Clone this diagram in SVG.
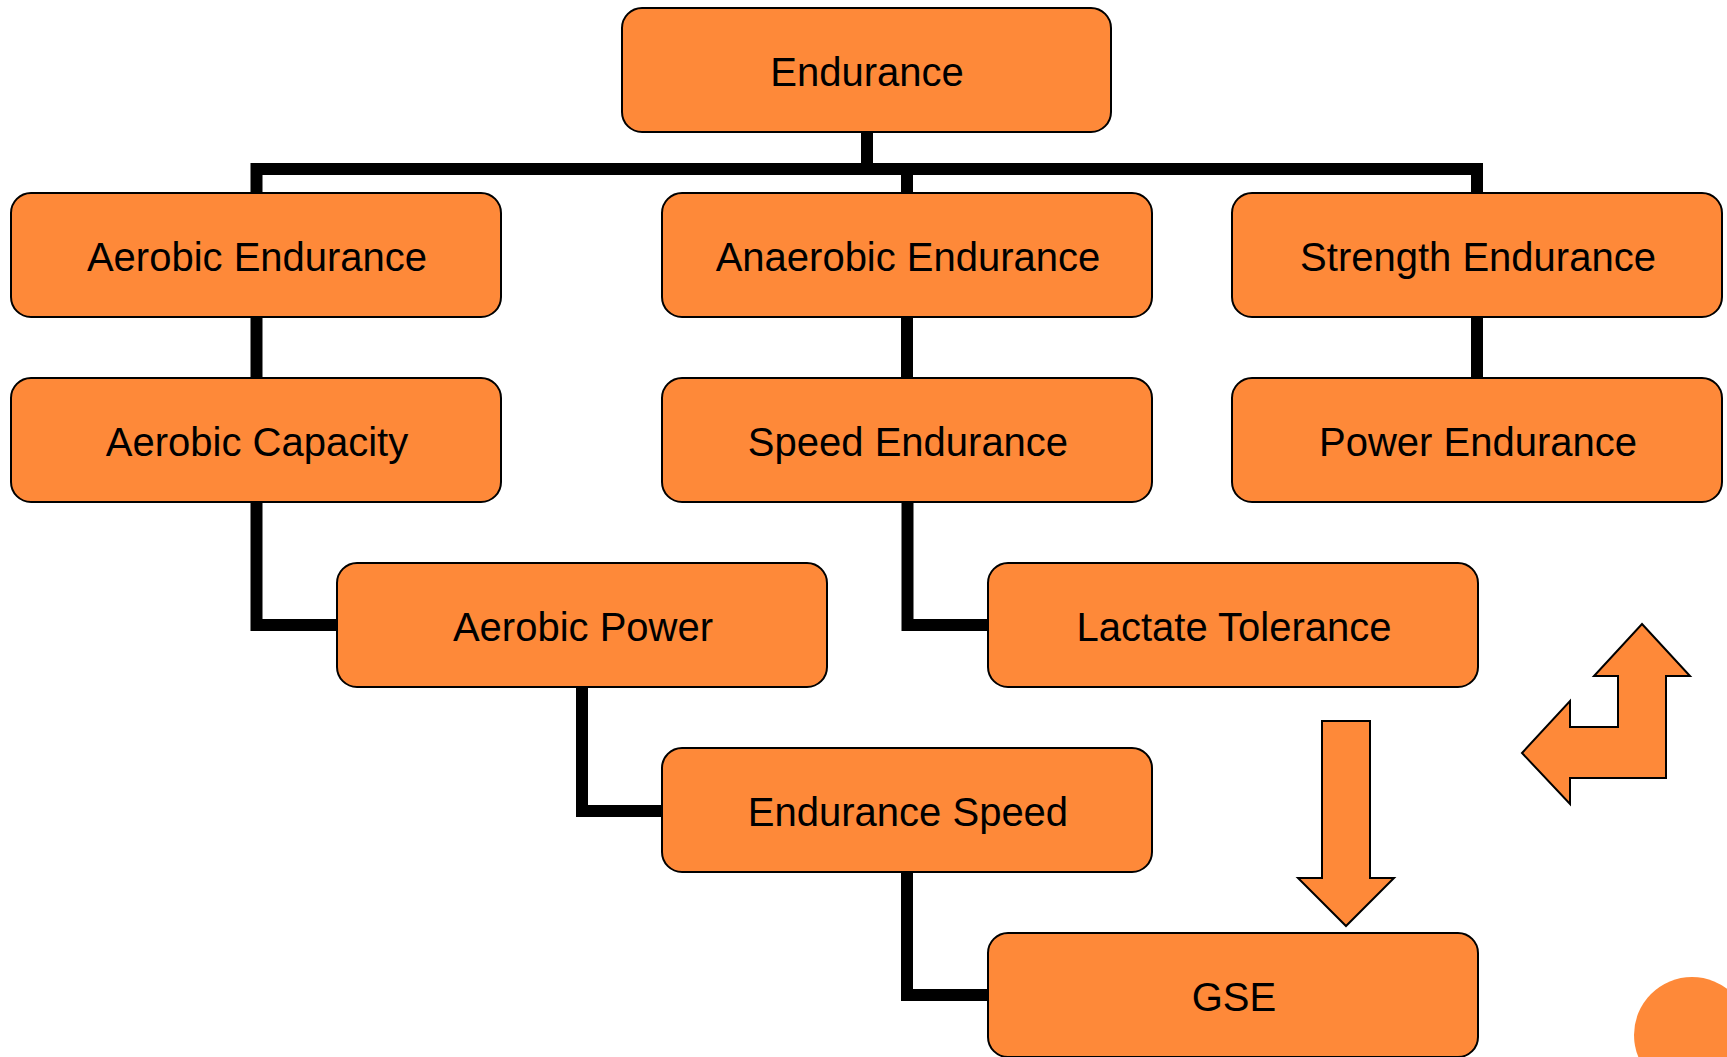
<svg xmlns="http://www.w3.org/2000/svg" width="1727" height="1057" viewBox="0 0 1727 1057">
<style>
.box{fill:#FE8939;stroke:#000;stroke-width:2}
.lbl{font-family:"Liberation Sans",Arial,sans-serif;font-size:40px;fill:#000;text-anchor:middle}
.con{fill:none;stroke:#000;stroke-width:12;stroke-linejoin:miter;stroke-linecap:butt}
.shape{fill:#FE8939;stroke:#000;stroke-width:2;stroke-linejoin:miter}
</style>
<rect width="1727" height="1057" fill="#fff"/>
<circle cx="1692" cy="1035" r="58" fill="#FE8939"/>
<g id="connectors">
<path class="con" d="M867,132 V169"/>
<path class="con" d="M256.5,193 V169 H1477 V193"/>
<path class="con" d="M907,169 V193"/>
<path class="con" d="M256.5,317 V378"/>
<path class="con" d="M907,317 V378"/>
<path class="con" d="M1477,317 V378"/>
<path class="con" d="M256.5,502 V625 H337"/>
<path class="con" d="M907.5,502 V625 H988"/>
<path class="con" d="M582,687 V811 H662"/>
<path class="con" d="M907,872 V995 H988"/>
</g>
<g id="n-endurance"><rect class="box" x="622" y="8" width="489" height="124" rx="20"/><text class="lbl" x="867" y="86">Endurance</text></g>
<g id="n-aerobic-endurance"><rect class="box" x="11" y="193" width="490" height="124" rx="20"/><text class="lbl" x="257" y="271">Aerobic Endurance</text></g>
<g id="n-anaerobic-endurance"><rect class="box" x="662" y="193" width="490" height="124" rx="20"/><text class="lbl" x="908" y="271">Anaerobic Endurance</text></g>
<g id="n-strength-endurance"><rect class="box" x="1232" y="193" width="490" height="124" rx="20"/><text class="lbl" x="1478" y="271">Strength Endurance</text></g>
<g id="n-aerobic-capacity"><rect class="box" x="11" y="378" width="490" height="124" rx="20"/><text class="lbl" x="257" y="456">Aerobic Capacity</text></g>
<g id="n-speed-endurance"><rect class="box" x="662" y="378" width="490" height="124" rx="20"/><text class="lbl" x="908" y="456">Speed Endurance</text></g>
<g id="n-power-endurance"><rect class="box" x="1232" y="378" width="490" height="124" rx="20"/><text class="lbl" x="1478" y="456">Power Endurance</text></g>
<g id="n-aerobic-power"><rect class="box" x="337" y="563" width="490" height="124" rx="20"/><text class="lbl" x="583" y="641">Aerobic Power</text></g>
<g id="n-lactate-tolerance"><rect class="box" x="988" y="563" width="490" height="124" rx="20"/><text class="lbl" x="1234" y="641">Lactate Tolerance</text></g>
<g id="n-endurance-speed"><rect class="box" x="662" y="748" width="490" height="124" rx="20"/><text class="lbl" x="908" y="826">Endurance Speed</text></g>
<g id="n-gse"><rect class="box" x="988" y="933" width="490" height="124" rx="20"/><text class="lbl" x="1234" y="1011">GSE</text></g>
<g id="down-arrow"><polygon class="shape" points="1322,721 1370,721 1370,878 1394,878 1346,926 1298,878 1322,878"/></g>
<g id="bent-arrow"><polygon class="shape" points="1642,624 1690,676 1666,676 1666,778 1570,778 1570,804 1522,753 1570,701 1570,727 1618,727 1618,676 1594,676"/></g>
</svg>
